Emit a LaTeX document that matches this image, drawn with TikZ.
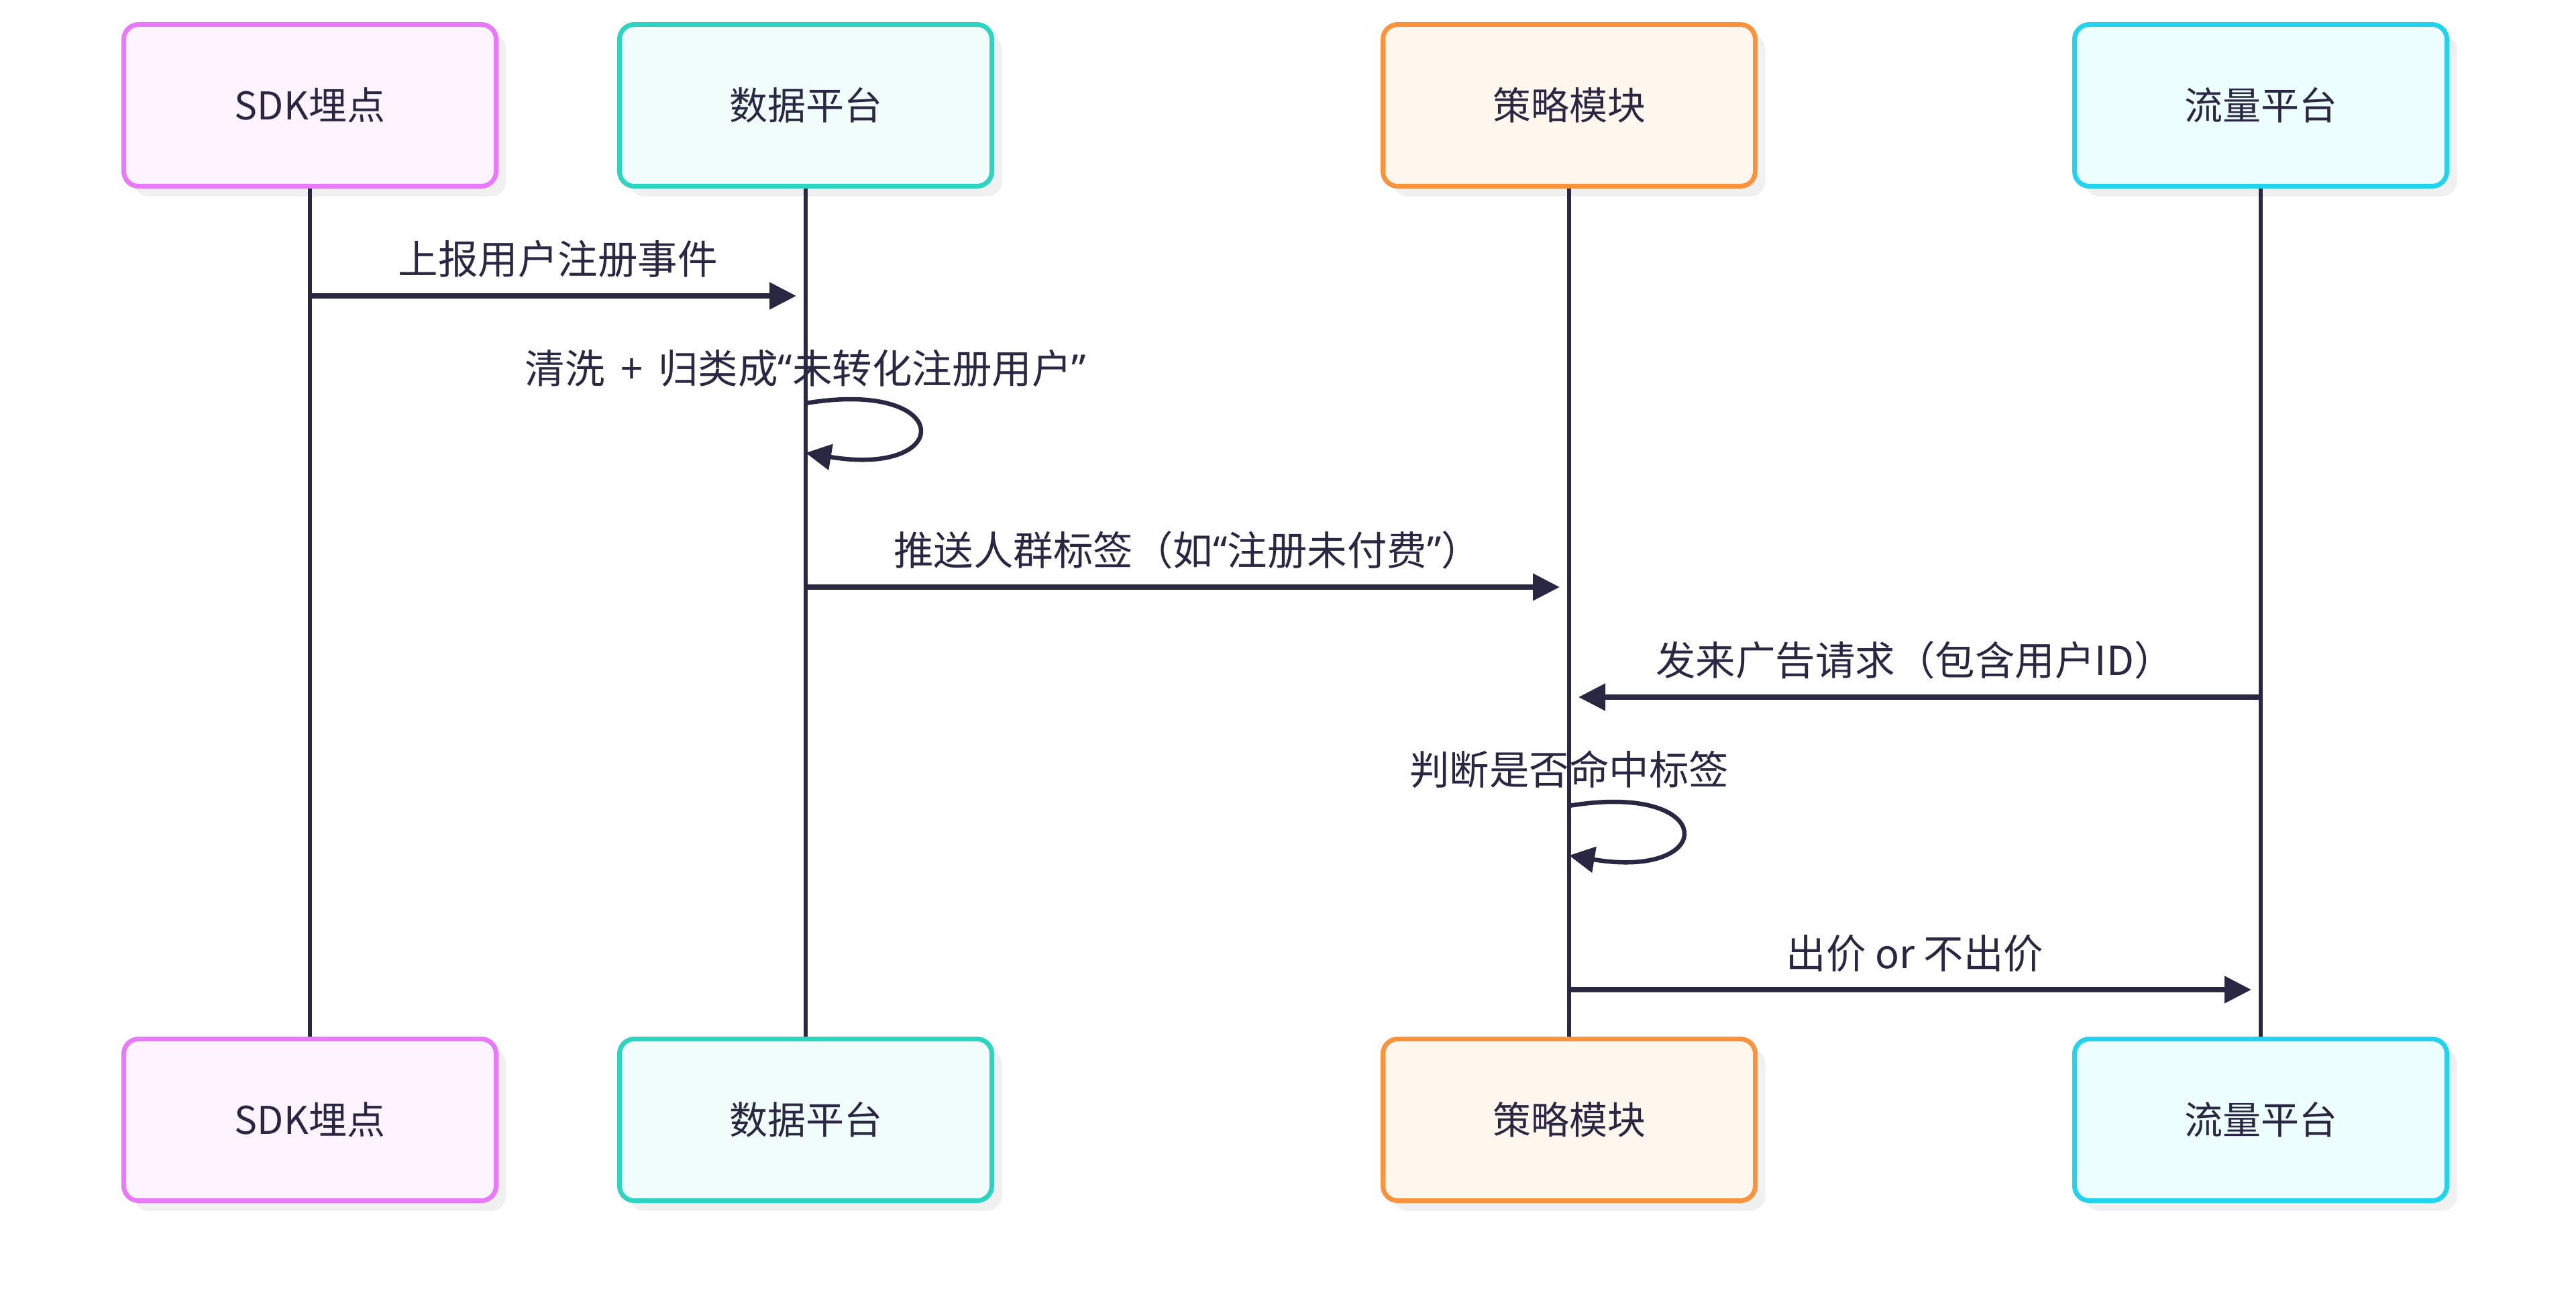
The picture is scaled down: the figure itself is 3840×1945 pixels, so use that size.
\documentclass[tikz,border=0pt]{standalone}
\usepackage{fontspec}
\setmainfont{Noto Sans CJK SC}
\newfontfamily\latinq{Noto Sans}
\newcommand{\myopenq}{{\latinq “}}
\newcommand{\mycloseq}{{\latinq ”}}
\usetikzlibrary{arrows.meta,shadows,calc}
\definecolor{ink}{HTML}{2A2742}
\definecolor{shadowgray}{HTML}{F0F0F0}
\definecolor{pinkB}{HTML}{E879F9}\definecolor{pinkF}{HTML}{FDF4FF}
\definecolor{tealB}{HTML}{2DD4BF}\definecolor{tealF}{HTML}{F0FDFA}
\definecolor{orangeB}{HTML}{FB923C}\definecolor{orangeF}{HTML}{FFF7ED}
\definecolor{cyanB}{HTML}{22D3EE}\definecolor{cyanF}{HTML}{ECFEFF}
\tikzset{
  actor/.style={draw=#1B, fill=#1F, line width=7pt, rounded corners=22pt,
    minimum width=555pt, minimum height=241pt, inner sep=0pt, text=ink,
    font=\fontsize{57}{68}\selectfont,
    drop shadow={shadow xshift=15pt, shadow yshift=-15pt, fill=shadowgray, opacity=1}},
  lifeline/.style={draw=ink, line width=6.5pt},
  msg/.style={draw=ink, line width=7.5pt, shorten >=14pt,
    -{Triangle[length=40pt,width=39pt]}},
  selfloop/.style={draw=ink, line width=6.5pt,
    -{Triangle[length=38pt,width=38pt]}},
  lbl/.style={text=ink, font=\fontsize{59.5}{71}\selectfont, inner sep=0pt}
}
\begin{document}
\begin{tikzpicture}[x=1pt,y=-1pt]
\useasboundingbox[fill=white] (0,0) rectangle (3840,1945);
% actors
\node[actor=pink]   (sdk)      at (462,157)  {SDK埋点};
\node[actor=teal]   (data)     at (1201,157) {数据平台};
\node[actor=orange] (strat)    at (2339,157) {策略模块};
\node[actor=cyan]   (traffic)  at (3370,157) {流量平台};
\node[actor=pink]   (sdkb)     at (462,1669)  {SDK埋点};
\node[actor=teal]   (datab)    at (1201,1669) {数据平台};
\node[actor=orange] (stratb)   at (2339,1669) {策略模块};
\node[actor=cyan]   (trafficb) at (3370,1669) {流量平台};
% lifelines
\draw[lifeline] (sdk.south) -- (sdkb.north);
\draw[lifeline] (data.south) -- (datab.north);
\draw[lifeline] (strat.south) -- (stratb.north);
\draw[lifeline] (traffic.south) -- (trafficb.north);
% message 1
\coordinate (m1a) at (sdk |- 0,441);
\coordinate (m1b) at (data |- 0,441);
\draw[msg] (m1a) -- (m1b);
\node[lbl] (t1) at ($(m1a)!0.5!(m1b)+(0,-55)$) {上报用户注册事件};
% self loop 1
\coordinate (l1a) at (data |- 0,601);
\coordinate (l1b) at (data |- 0,675);
\draw[selfloop] (l1a) .. controls ($(l1a)+(223,-37)$) and ($(l1a)+(223,111)$) .. (l1b);
\node[lbl] (t2) at ($(l1a)+(0,-52)$) {清洗\ \,+\,\ 归类成\myopenq 未转化注册用户\mycloseq};
% message 3
\coordinate (m3a) at (data |- 0,875);
\coordinate (m3b) at (strat |- 0,875);
\draw[msg] (m3a) -- (m3b);
\node[lbl] (t3) at ($(m3a)!0.5!(m3b)+(0,-55)$) {推送人群标签（如\myopenq 注册未付费\mycloseq ）};
% message 4
\coordinate (m4a) at (traffic |- 0,1039);
\coordinate (m4b) at (strat |- 0,1039);
\draw[msg] (m4a) -- (m4b);
\node[lbl] (t4) at ($(m4a)!0.5!(m4b)+(0,-55)$) {发来广告请求（包含用户ID）};
% self loop 2
\coordinate (l2a) at (strat |- 0,1201);
\coordinate (l2b) at (strat |- 0,1275);
\draw[selfloop] (l2a) .. controls ($(l2a)+(223,-37)$) and ($(l2a)+(223,111)$) .. (l2b);
\node[lbl] (t5) at ($(l2a)+(0,-54)$) {判断是否命中标签};
% message 6
\coordinate (m6a) at (strat |- 0,1475);
\coordinate (m6b) at (traffic |- 0,1475);
\draw[msg] (m6a) -- (m6b);
\node[lbl] (t6) at ($(m6a)!0.5!(m6b)+(0,-54)$) {出价 or 不出价};
\end{tikzpicture}
\end{document}
